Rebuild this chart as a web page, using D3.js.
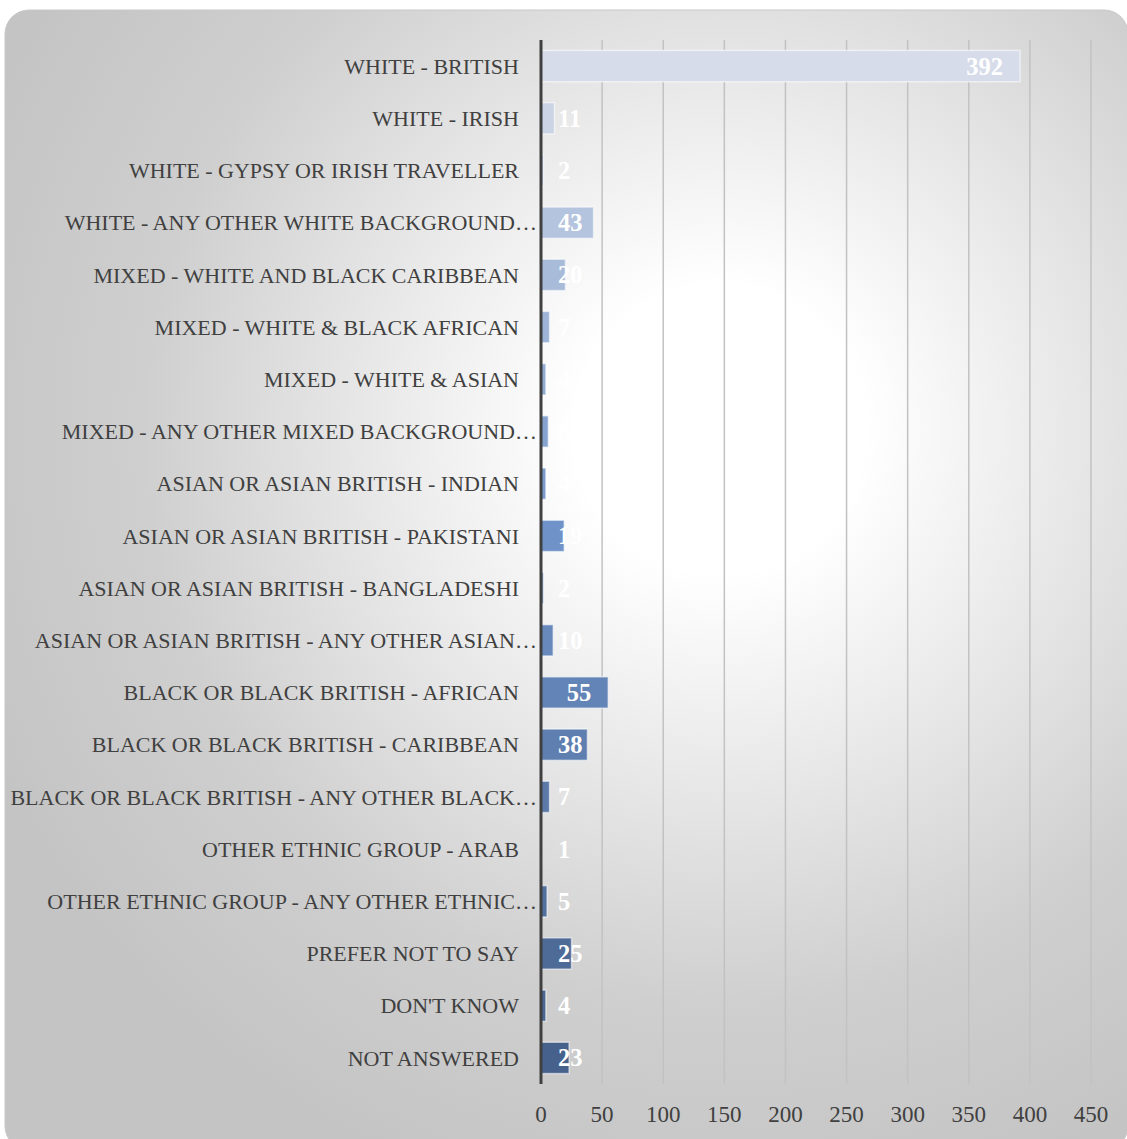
<!DOCTYPE html>
<html>
<head>
<meta charset="utf-8">
<script src="https://cdn.jsdelivr.net/npm/d3@7"></script>
<style>
  html, body { margin: 0; padding: 0; background: #ffffff; }
  svg { display: block; }
</style>
</head>
<body>
<svg id="chart" width="1127" height="1139"></svg>
<script>
const categories = [
  "WHITE - BRITISH",
  "WHITE - IRISH",
  "WHITE - GYPSY OR IRISH TRAVELLER",
  "WHITE - ANY OTHER WHITE BACKGROUND…",
  "MIXED - WHITE AND BLACK CARIBBEAN",
  "MIXED - WHITE & BLACK AFRICAN",
  "MIXED - WHITE & ASIAN",
  "MIXED - ANY OTHER MIXED BACKGROUND…",
  "ASIAN OR ASIAN BRITISH - INDIAN",
  "ASIAN OR ASIAN BRITISH - PAKISTANI",
  "ASIAN OR ASIAN BRITISH - BANGLADESHI",
  "ASIAN OR ASIAN BRITISH - ANY OTHER ASIAN…",
  "BLACK OR BLACK BRITISH - AFRICAN",
  "BLACK OR BLACK BRITISH - CARIBBEAN",
  "BLACK OR BLACK BRITISH - ANY OTHER BLACK…",
  "OTHER ETHNIC GROUP - ARAB",
  "OTHER ETHNIC GROUP - ANY OTHER ETHNIC…",
  "PREFER NOT TO SAY",
  "DON'T KNOW",
  "NOT ANSWERED"
];
const values = [392, 11, 2, 43, 20, 7, 4, 6, 4, 19, 2, 10, 55, 38, 7, 1, 5, 25, 4, 23];
const tickValues = [0, 50, 100, 150, 200, 250, 300, 350, 400, 450];

const svg = d3.select("#chart");

// background
const defs = svg.append("defs");
const rg = defs.append("radialGradient")
  .attr("id", "bg").attr("gradientUnits", "userSpaceOnUse")
  .attr("cx", 720).attr("cy", 430).attr("r", 800);
rg.append("stop").attr("offset", 0).attr("stop-color", "#ffffff");
rg.append("stop").attr("offset", 0.18).attr("stop-color", "#ffffff");
rg.append("stop").attr("offset", 0.72).attr("stop-color", "#cfcfcf");
rg.append("stop").attr("offset", 1).attr("stop-color", "#c4c4c4");

svg.append("rect")
  .attr("x", 5).attr("y", 10).attr("width", 1123).attr("height", 1140)
  .attr("rx", 24).attr("ry", 24)
  .attr("fill", "url(#bg)")
  .attr("stroke", "#c8c8c8").attr("stroke-width", 1);

const x = d3.scaleLinear().domain([0, 450]).range([541, 1091]);
const y = d3.scaleBand().domain(categories).range([40, 1084]).paddingInner(0.4).paddingOuter(0.2);

const color = d3.scaleLinear()
  .domain([0, 9, 19])
  .range(["#d6dce9", "#6f93c8", "#46618b"])
  .interpolate(d3.interpolateRgb);

// gridlines
svg.append("g").selectAll("line")
  .data(tickValues.slice(1))
  .join("line")
  .attr("x1", d => x(d)).attr("x2", d => x(d))
  .attr("y1", 40).attr("y2", 1084)
  .attr("stroke", "#c2c2c2").attr("stroke-width", 1.5);

// bars
svg.append("g").selectAll("rect")
  .data(values)
  .join("rect")
  .attr("x", x(0))
  .attr("y", (d, i) => y(categories[i]))
  .attr("width", d => x(d) - x(0))
  .attr("height", y.bandwidth())
  .attr("fill", (d, i) => color(i))
  .attr("stroke", "rgba(255,255,255,0.55)")
  .attr("stroke-width", 1.5);

// axis line at 0
svg.append("line")
  .attr("x1", x(0)).attr("x2", x(0))
  .attr("y1", 40).attr("y2", 1084)
  .attr("stroke", "#404040").attr("stroke-width", 3);

// category labels
svg.append("g").selectAll("text")
  .data(categories)
  .join("text")
  .attr("x", d => d.endsWith("…") ? 537 : 519)
  .attr("y", d => y(d) + y.bandwidth() / 2)
  .attr("dy", "0.35em")
  .attr("text-anchor", "end")
  .attr("font-family", "'Liberation Serif', 'DejaVu Serif', serif")
  .attr("font-size", 22)
  .attr("fill", "#404040")
  .text(d => d);

// tick labels
svg.append("g").selectAll("text")
  .data(tickValues)
  .join("text")
  .attr("x", d => x(d))
  .attr("y", 1114)
  .attr("dy", "0.35em")
  .attr("text-anchor", "middle")
  .attr("font-family", "'Liberation Serif', 'DejaVu Serif', serif")
  .attr("font-size", 23)
  .attr("fill", "#404040")
  .text(d => d);

// data labels
const dl = svg.append("g").selectAll("text")
  .data(values)
  .join("text")
  .attr("y", (d, i) => y(categories[i]) + y.bandwidth() / 2)
  .attr("dy", "0.35em")
  .attr("text-anchor", "end")
  .attr("font-family", "'Liberation Serif', 'DejaVu Serif', serif")
  .attr("font-weight", "bold")
  .attr("font-size", 24.5)
  .attr("fill", "#ffffff")
  .text(d => d);
dl.each(function(d) {
  const w = this.getComputedTextLength();
  const xe = Math.max(x(d) - 17, 558 + w);
  d3.select(this).attr("x", xe);
});
</script>
</body>
</html>
